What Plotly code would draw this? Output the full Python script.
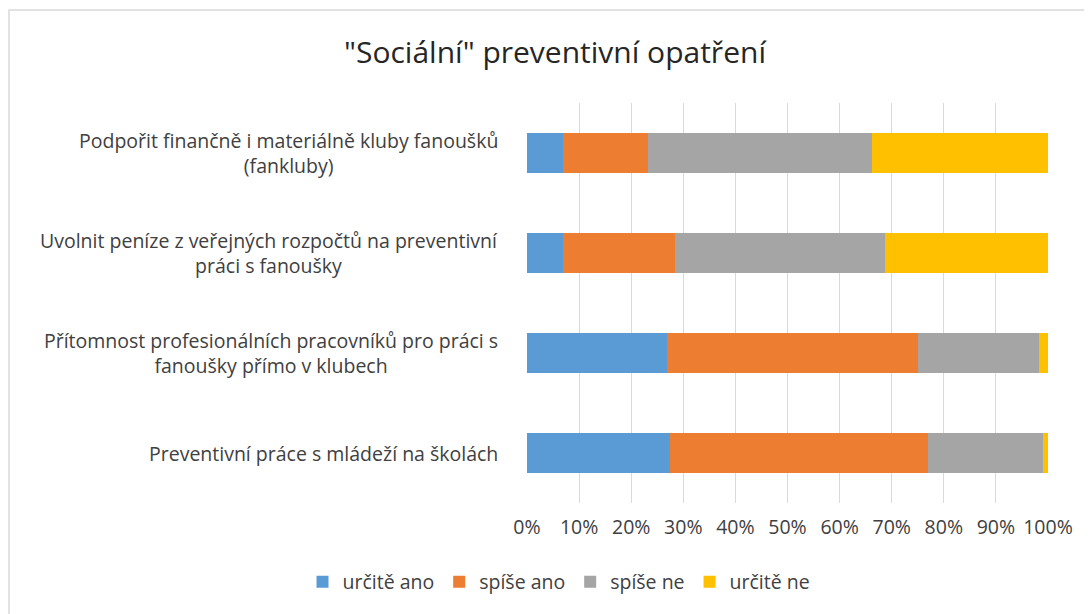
import plotly.graph_objects as go

categories = [
    "Preventivní práce s mládeží na školách",
    "Přítomnost profesionálních pracovníků pro práci s<br>fanoušky přímo v klubech",
    "Uvolnit peníze z veřejných rozpočtů na preventivní<br>práci s fanoušky",
    "Podpořit finančně i materiálně kluby fanoušků<br>(fankluby)",
]
series_names = ["určitě ano", "spíše ano", "spíše ne", "určitě ne"]
urcite_ano = [27.5, 26.9, 7.0, 7.0]
spise_ano = [49.4, 48.2, 21.5, 16.2]
spise_ne = [22.2, 23.1, 40.2, 43.0]
urcite_ne = [0.9, 1.8, 31.3, 33.8]
colors = ["#5B9BD5", "#ED7D31", "#A5A5A5", "#FFC000"]
x_ticks = list(range(0, 101, 10))
x_tick_labels = [f"{v}%" for v in x_ticks]

FONT = "Open Sans"
TXT = "#404040"

# page has an 8px body margin; figure coordinates are page coordinates minus 8
L, T, PW, PH = 519, 95, 521, 400

fig = go.Figure()
for name, vals, col in zip(series_names, [urcite_ano, spise_ano, spise_ne, urcite_ne], colors):
    fig.add_trace(go.Bar(
        y=categories, x=vals, name=name, orientation="h",
        marker=dict(color=col, line=dict(width=0)), width=0.4,
    ))

for c in categories:
    fig.add_annotation(
        x=0, xref="paper", y=c, yref="y", text=c, showarrow=False,
        xanchor="right", xshift=-27, align="center",
        font=dict(family=FONT, size=19.5, color=TXT),
    )

fig.update_layout(
    barmode="stack",
    width=1092, height=614,
    margin=dict(l=L, r=1092 - L - PW, t=T, b=614 - T - PH),
    paper_bgcolor="white", plot_bgcolor="white",
    title=dict(text='"Sociální" preventivní opatření', x=547 / 1092, xanchor="center",
               y=1 - 44 / 614, yanchor="middle",
               font=dict(family=FONT, size=30, color="#262626")),
    legend=dict(orientation="h", x=(551 - L) / PW, xanchor="center",
                y=(T + PH - 574) / PH, yanchor="middle",
                font=dict(family=FONT, size=19.5, color=TXT),
                traceorder="normal", itemwidth=30),
    xaxis=dict(range=[0, 100], tickvals=x_ticks, ticktext=x_tick_labels,
               showgrid=True, gridcolor="#D9D9D9", gridwidth=1, zeroline=False,
               showline=False, ticks="", ticklabelstandoff=10,
               tickfont=dict(family=FONT, size=19.5, color=TXT)),
    yaxis=dict(categoryorder="array", categoryarray=categories,
               range=[-0.5, 3.5], showticklabels=False, showgrid=False,
               zeroline=False, showline=False, ticks=""),
    shapes=[dict(type="rect", xref="paper", yref="paper",
                 x0=(1 - L) / PW, x1=(1100 - L) / PW,
                 y0=(T + PH - 620) / PH, y1=(T + PH - 2) / PH,
                 line=dict(color="#D9D9D9", width=1.5), layer="below")],
    bargap=0.6,
)

fig.write_html("out.html")
